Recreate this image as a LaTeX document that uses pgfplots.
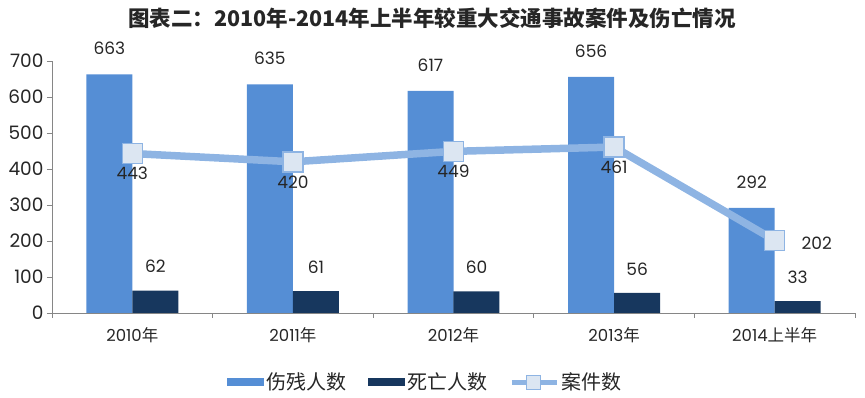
\documentclass[border=0pt]{standalone}
\usepackage{pgfplots}
\pgfplotsset{compat=1.18}
\usepackage{fontspec}
\setmainfont{Poppins}
\newfontfamily\cjk{Noto Sans CJK SC}
\definecolor{c1}{HTML}{558ED5}
\definecolor{c2}{HTML}{17375E}
\definecolor{c3}{HTML}{8EB4E3}
\definecolor{c4}{HTML}{DCE6F2}
\definecolor{ax}{HTML}{868686}
\begin{document}
\begin{tikzpicture}[x=1pt,y=1pt]
\useasboundingbox (0,0) rectangle (865,398);
\node[font=\cjk\bfseries\fontsize{21.5}{24}\selectfont, text=black!85] at (432,380) {图表二：2010年-2014年上半年较重大交通事故案件及伤亡情况};
\begin{axis}[at={(52pt,85pt)}, anchor=south west, scale only axis,
  width=803pt, height=252pt,
  xmin=-0.5, xmax=4.5, ymin=0, ymax=700, enlargelimits=false, clip=false,
  axis lines*=left, axis line style={ax, line width=0.8pt},
  ytick={0,100,...,700},
  xtick={0,...,4},
  xticklabels={2010{\cjk 年},2011{\cjk 年},2012{\cjk 年},2013{\cjk 年},2014{\cjk 上半年}},
  minor xtick={-0.5,0.5,...,4.5},
  major x tick style={draw=none},
  minor x tick style={draw=ax, line width=0.8pt},
  ytick style={draw=ax, line width=0.8pt},
  tick align=outside, major tick length=5pt, minor tick length=5pt,
  /pgf/number format/assume math mode=true,
  yticklabel style={font=\fontsize{18.5}{20}\selectfont, text=black!85, xshift=0pt},
  xticklabel style={font=\fontsize{16.5}{18}\selectfont, text=black!85, yshift=-6pt},
  legend style={at={(0.465,-0.274)}, anchor=center, draw=none, fill=none,
    legend columns=3, font=\cjk\fontsize{20}{22}\selectfont, text=black!85,
    /tikz/every even column/.append style={column sep=20pt}},
]
\addplot[ybar, bar width=46pt, bar shift=0pt, fill=c1, draw=none,
  nodes near coords,
  every node near coord/.append style={anchor=center, yshift=26pt, font=\fontsize{17}{19}\selectfont, text=black!85},
  legend image code/.code={\fill[c1] (0pt,-4pt) rectangle (37pt,4pt);}]
  coordinates {(-0.1432,663) (0.8568,635) (1.8568,617) (2.8568,656) (3.8568,292)};
\addlegendentry{伤残人数}
\addplot[ybar, bar width=46pt, bar shift=0pt, fill=c2, draw=none,
  nodes near coords,
  every node near coord/.append style={anchor=center, yshift=24pt, font=\fontsize{17}{19}\selectfont, text=black!85},
  legend image code/.code={\fill[c2] (0pt,-4pt) rectangle (37pt,4pt);}]
  coordinates {(0.1432,62) (1.1432,61) (2.1432,60) (3.1432,56) (4.1432,33)};
\addlegendentry{死亡人数}
\addplot[c3, line width=7.5pt, mark=square*,
  mark options={fill=c4, draw=c3, line width=1.5pt, mark size=10pt},
  nodes near coords,
  every node near coord/.append style={anchor=center, font=\fontsize{17}{19}\selectfont, text=black!85},
  coordinate style/.condition={x<3.5}{yshift=-20pt},
  coordinate style/.condition={x>3.5}{xshift=42pt, yshift=-3pt},
  legend image code/.code={\draw[c3, line width=5pt] (0pt,0pt) -- (45pt,0pt);
    \filldraw[fill=c4, draw=c3, line width=1pt] (15pt,-7pt) rectangle (29pt,7pt);}]
  coordinates {(0,443) (1,420) (2,449) (3,461) (4,202)};
\addlegendentry{案件数}
\end{axis}
\end{tikzpicture}
\end{document}
